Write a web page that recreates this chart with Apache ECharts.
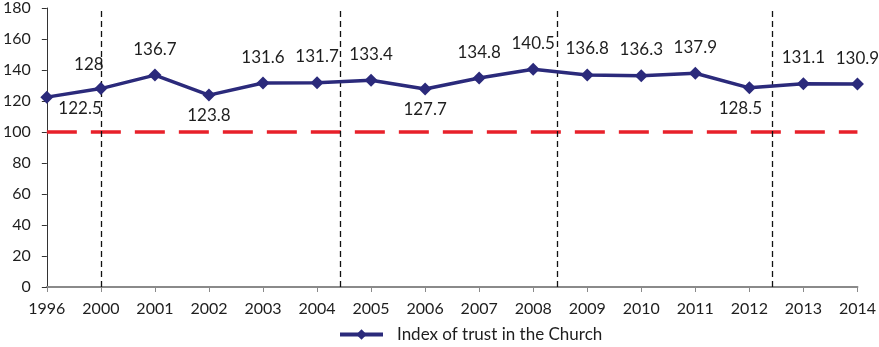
<!DOCTYPE html>
<html>
<head>
<meta charset="utf-8">
<script src="https://cdn.jsdelivr.net/npm/echarts@6/dist/echarts.min.js"></script>
<style>html,body{margin:0;padding:0;background:#fff}#c{width:879px;height:347px}</style>
</head>
<body>
<div id="c"></div>
<script>
var years = ['1996','2000','2001','2002','2003','2004','2005','2006','2007','2008','2009','2010','2011','2012','2013','2014'];
var trustIndex = [122.5,128,136.7,123.8,131.6,131.7,133.4,127.7,134.8,140.5,136.8,136.3,137.9,128.5,131.1,130.9];
var referenceLevel = 100;
var yTicks = [0,20,40,60,80,100,120,140,160,180];
// period separators (position measured in category index units)
var separators = [1, 5.43, 9.44, 13.43];
var seriesName = 'Index of trust in the Church';

// label placement (style only)
var labelPlacement = ['right','top','top','bottom','top','top','top','bottom','top','top','top','top','top','bottom','top','top'];
var labelShift = {0:[0,11],1:[-12,-4],13:[-9,1]};

var FONT = 'Lato';
var chart = echarts.init(document.getElementById('c'), null, {renderer:'canvas'});

var pts = trustIndex.map(function(v,i){
  var pos = labelPlacement[i];
  var off = labelShift[i] || (pos==='top' ? [0,-6] : [0,0]);
  return {value: v, label: {position: pos, offset: off}};
});

chart.setOption({
  animation: false,
  textStyle: {fontFamily: FONT},
  grid: {left: 45, right: 21, top: 6, bottom: 60},
  legend: {
    data: [seriesName],
    left: 333, top: 321,
    itemWidth: 43, itemHeight: 13,
    lineStyle: {width: 4},
    textStyle: {fontFamily: FONT, fontSize: 17, color: '#1e1e1e', padding: [0,0,0,9]}
  },
  xAxis: [{
    type: 'category', data: years, boundaryGap: false,
    axisLine: {lineStyle: {color: '#8a8a8a', width: 2}},
    axisTick: {show: true, length: 5, lineStyle: {color: '#8a8a8a'}},
    axisLabel: {fontFamily: FONT, fontSize: 16, color: '#1e1e1e', margin: 14},
    splitLine: {show: false}
  },{
    type: 'value', min: 0, max: years.length - 1, show: false
  }],
  yAxis: {
    type: 'value', min: yTicks[0], max: yTicks[yTicks.length-1], interval: 20,
    axisLine: {show: true, lineStyle: {color: '#333', width: 1}},
    axisTick: {show: true, length: 5, lineStyle: {color: '#333'}},
    axisLabel: {fontFamily: FONT, fontSize: 16, color: '#1e1e1e', margin: 16},
    splitLine: {show: false}
  },
  series: [{
    name: seriesName,
    type: 'line',
    data: pts,
    symbol: 'diamond', symbolSize: 13,
    lineStyle: {color: '#2b2a7b', width: 3.5},
    itemStyle: {color: '#2b2a7b'},
    label: {show: true, fontFamily: FONT, fontSize: 17, color: '#1e1e1e', distance: 5},
    z: 5,
    markLine: {
      silent: true, symbol: 'none',
      label: {show: false},
      lineStyle: {color: '#e8202a', width: 3.5, type: [30,14]},
      data: [{yAxis: referenceLevel}]
    }
  },{
    name: 'separators',
    type: 'line',
    xAxisIndex: 1,
    data: [],
    markLine: {
      silent: true, symbol: 'none',
      label: {show: false},
      lineStyle: {color: '#111', width: 1.3, type: [6,4]},
      data: separators.map(function(s){return {xAxis: s};})
    }
  }]
});
</script>
</body>
</html>
